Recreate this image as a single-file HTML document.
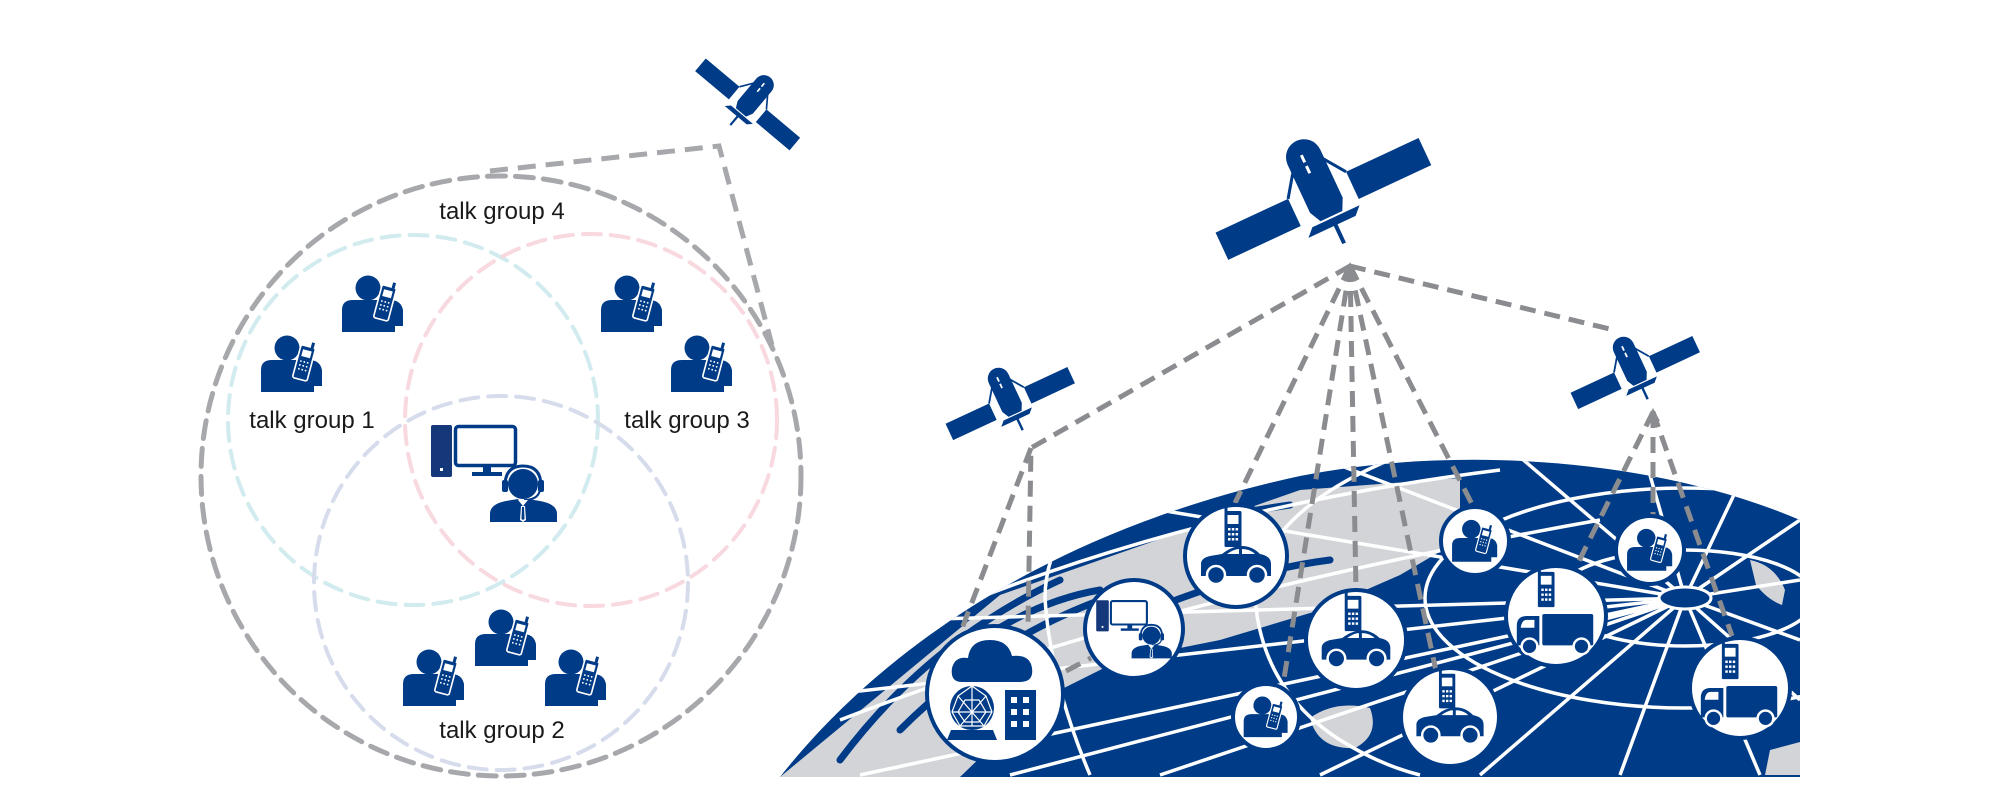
<!DOCTYPE html>
<html><head><meta charset="utf-8"><style>
html,body{margin:0;padding:0;background:#fff;width:2000px;height:800px;overflow:hidden;}
svg{display:block;overflow:hidden;}
text{font-family:"Liberation Sans",sans-serif;font-size:24px;fill:#1a1a1a;}
</style></head><body>
<svg width="2000" height="800" viewBox="0 0 2000 800" xmlns="http://www.w3.org/2000/svg">
<defs>
  <g id="pp">
    <circle cx="33" cy="18" r="12.5" fill="#003b87"/>
    <path d="M7 62 V40 Q7 30 18 30 H55 Q66 30 68 40 V56 H60 V62 Z" fill="#003b87"/>
    <g transform="rotate(15 50 35)">
      <rect x="42" y="16" width="15" height="34" rx="2" fill="#003b87" stroke="#fff" stroke-width="1.6"/>
      <rect x="52" y="11" width="3" height="6" fill="#003b87"/>
      <rect x="45" y="20" width="9" height="7" fill="#fff"/>
      <g fill="#fff"><circle cx="46" cy="32" r="0.9"/><circle cx="49.5" cy="32" r="0.9"/><circle cx="53" cy="32" r="0.9"/>
      <circle cx="46" cy="36" r="0.9"/><circle cx="49.5" cy="36" r="0.9"/><circle cx="53" cy="36" r="0.9"/>
      <circle cx="46" cy="40" r="0.9"/><circle cx="49.5" cy="40" r="0.9"/><circle cx="53" cy="40" r="0.9"/></g>
    </g>
  </g>
  <g id="disp">
    <rect x="11" y="5" width="21" height="52" rx="2" fill="#15387a"/>
    <rect x="20" y="48" width="3" height="3" fill="#fff"/>
    <rect x="35.5" y="6.5" width="60" height="39" rx="3" fill="none" stroke="#003b87" stroke-width="3.5"/>
    <rect x="63" y="46" width="8" height="6" fill="#003b87"/>
    <rect x="52" y="52" width="30" height="4" fill="#003b87"/>
    <path d="M85 66 Q85 46 103 46 Q121 46 121 66" fill="none" stroke="#003b87" stroke-width="3"/>
    <rect x="82" y="60" width="6" height="12" rx="2" fill="#003b87"/>
    <rect x="118" y="60" width="6" height="12" rx="2" fill="#003b87"/>
    <circle cx="103" cy="64" r="15" fill="#003b87"/>
    <path d="M120 70 Q118 80 104 80" fill="none" stroke="#003b87" stroke-width="2"/>
    <path d="M70 102 V94 Q70 84 86 81 L98 79 L103 86 L108 79 L120 81 Q137 84 137 94 V102 Z" fill="#003b87"/>
    <path d="M98 80 L103 86 L108 80 Z" fill="#fff"/>
    <path d="M101 86 H105 L106 100 L103 102 L100 100 Z" fill="#fff"/>
    <path d="M102 87 H104 L104.5 99 L103 100 L101.5 99 Z" fill="#003b87"/>
  </g>
  <g id="phone">
    <rect x="-8.5" y="-18" width="17" height="36" rx="1.5" fill="#003b87"/>
    <rect x="-8.5" y="-24" width="3" height="7" fill="#003b87"/>
    <rect x="-5.5" y="-14" width="11" height="9" fill="#fff"/>
    <g fill="#fff"><rect x="-5" y="-1" width="2.5" height="2.5"/><rect x="-1.2" y="-1" width="2.5" height="2.5"/><rect x="2.6" y="-1" width="2.5" height="2.5"/>
    <rect x="-5" y="4" width="2.5" height="2.5"/><rect x="-1.2" y="4" width="2.5" height="2.5"/><rect x="2.6" y="4" width="2.5" height="2.5"/>
    <rect x="-5" y="9" width="2.5" height="2.5"/><rect x="-1.2" y="9" width="2.5" height="2.5"/><rect x="2.6" y="9" width="2.5" height="2.5"/></g>
  </g>
  <g id="car">
    <use href="#phone" transform="translate(-3,-27)"/>
    <path d="M-35 20 V8 Q-35 2 -26 0 L-14 -2 Q-4 -10 6 -10 Q16 -10 24 -2 Q35 0 35 8 V20 Z" fill="#003b87"/>
    <path d="M-9 -2 Q-2 -7 3 -7 V-2 Z M6 -7 Q14 -7 19 -2 H6 Z" fill="#fff"/>
    <circle cx="-20" cy="19" r="9" fill="#003b87" stroke="#fff" stroke-width="2.5"/>
    <circle cx="21" cy="19" r="9" fill="#003b87" stroke="#fff" stroke-width="2.5"/>
  </g>
  <g id="truck">
    <use href="#phone" transform="translate(-10,-27)"/>
    <rect x="-14" y="-2" width="52" height="32" rx="2" fill="#003b87"/>
    <path d="M-40 30 V10 Q-40 0 -30 0 H-17 V30 Z" fill="#003b87"/>
    <path d="M-36 12 Q-35 4 -30 4 H-22 V12 Z" fill="#fff"/>
    <circle cx="-27" cy="31" r="8" fill="#003b87" stroke="#fff" stroke-width="2.5"/>
    <circle cx="26" cy="31" r="8" fill="#003b87" stroke="#fff" stroke-width="2.5"/>
  </g>
  <g id="sat">
    <line x1="-10" y1="-45" x2="-32" y2="-14" stroke="#003b87" stroke-width="3"/>
    <line x1="10" y1="-45" x2="32" y2="-14" stroke="#003b87" stroke-width="3"/>
    <rect x="-112" y="-14" width="80" height="30" fill="#003b87"/>
    <rect x="32" y="-14" width="80" height="30" fill="#003b87"/>
    <path d="M-18 -45 A18 18 0 0 1 18 -45 V8 L12 20 H-12 L-18 8 Z" fill="#003b87"/>
    <rect x="-3" y="-48" width="3" height="8" fill="#fff"/><rect x="-3" y="-36" width="3" height="8" fill="#fff"/>
    <path d="M-30 30 L-22 22 H30 L22 30 Z" fill="#003b87"/>
    <line x1="0" y1="28" x2="0" y2="50" stroke="#003b87" stroke-width="4"/>
  </g>
  <clipPath id="gc"><path d="M780 777 C880 650 1050 530 1300 476 C1450 446 1650 456 1800 520 L1800 777 Z"/></clipPath>
</defs>

<g fill="none" stroke-width="4" stroke-dasharray="18 10" stroke-linecap="round">
  <circle cx="413" cy="420" r="185" stroke="#d2ebee"/>
  <circle cx="591" cy="420" r="186" stroke="#f7d9df"/>
  <circle cx="501" cy="583" r="187" stroke="#d6dcec"/>
  <circle cx="501" cy="476" r="300" stroke="#a6a8ab" stroke-width="5"/>
</g>
<polyline points="490,171 719,146 772,345" fill="none" stroke="#a6a8ab" stroke-width="5" stroke-dasharray="18 10"/>
<text x="502" y="219" text-anchor="middle">talk group 4</text>
<text x="312" y="428" text-anchor="middle">talk group 1</text>
<text x="687" y="428" text-anchor="middle">talk group 3</text>
<text x="502" y="738" text-anchor="middle">talk group 2</text>
<use href="#pp" transform="translate(335,270)"/>
<use href="#pp" transform="translate(254,330)"/>
<use href="#pp" transform="translate(594,270)"/>
<use href="#pp" transform="translate(664,330)"/>
<use href="#pp" transform="translate(396,644)"/>
<use href="#pp" transform="translate(468,604)"/>
<use href="#pp" transform="translate(538,644)"/>
<use href="#disp" transform="translate(420,420)"/>
<use href="#sat" transform="translate(748,104) rotate(40) scale(0.55)"/>

<g clip-path="url(#gc)">
  <rect x="770" y="440" width="1040" height="337" fill="#003b87"/>
  <path d="M780 777 L1000 595 L1300 490 L1460 478 L1460 540 L1400 575 L1320 610 L1220 640 L1120 660 L1040 700 L960 777 Z" fill="#d2d4d8"/>
  <path d="M1310 718 Q1335 700 1370 708 Q1380 735 1355 748 Q1318 750 1310 718 Z" fill="#d2d4d8"/>
  <path d="M1750 560 Q1775 565 1785 590 L1782 605 Q1768 600 1756 585 Z" fill="#d2d4d8"/>
  <path d="M1770 750 L1800 742 L1800 775 L1765 775 Z" fill="#d2d4d8"/>
  <g fill="none" stroke="#003b87" stroke-width="7" stroke-linecap="round">
    <path d="M840 760 Q930 640 1060 580"/>
    <path d="M900 730 Q1000 630 1130 590"/>
    <path d="M1080 560 Q1180 520 1290 505"/>
    <path d="M1150 610 Q1250 570 1330 560"/>
    <path d="M980 640 Q1040 600 1100 590"/>
  </g>
  <g fill="none" stroke="#fff" stroke-width="3.5">
    <ellipse cx="1685" cy="598" rx="130" ry="48"/>
    <ellipse cx="1685" cy="598" rx="260" ry="110"/>
    <path d="M1255 598 A430 190 0 0 1 2115 598 M1255 598 Q1262 690 1340 740 Q1380 765 1420 775"/>
    <path d="M1045 598 A640 280 0 0 1 2325 598 M1045 598 Q1050 680 1090 775"/>
    <path d="M805 640 A880 360 0 0 1 2565 640"/>
    <path d="M1685 598 L860 775 M1685 598 L1010 775 M1685 598 L1160 775 M1685 598 L1320 775 M1685 598 L1480 775 M1685 598 L1620 775 M1685 598 L1760 775 M1685 598 L1800 700 M1685 598 L1800 640 M1685 598 L1800 580 M1685 598 L1800 520 M1685 598 L1760 440 M1685 598 L1640 440 M1685 598 L1500 440 M1685 598 L1300 450 M1685 598 L1100 500 M1685 598 L900 620 M1685 598 L780 700"/>
    <path d="M800 680 Q1100 520 1500 470 M840 720 Q1150 600 1600 520"/>
  </g>
  <ellipse cx="1685" cy="598" rx="26" ry="11" fill="#003b87" stroke="#fff" stroke-width="3"/>
</g>

<g fill="none" stroke="#8a8c8f" stroke-width="5" stroke-dasharray="16 9">
  <polyline points="1350,266 1031,448 1028,627"/>
  <line x1="1031" y1="448" x2="961" y2="631"/>
  <line x1="1066" y1="671" x2="1091" y2="658"/>
  <line x1="1350" y1="266" x2="1614" y2="330"/>
  <line x1="1350" y1="266" x2="1235" y2="503"/>
  <line x1="1350" y1="266" x2="1283" y2="685"/>
  <line x1="1350" y1="266" x2="1356" y2="590"/>
  <line x1="1350" y1="266" x2="1436" y2="671"/>
  <line x1="1350" y1="266" x2="1474" y2="508"/>
  <line x1="1653" y1="412" x2="1576" y2="567"/>
  <line x1="1653" y1="412" x2="1653" y2="517"/>
  <line x1="1653" y1="412" x2="1732" y2="636"/>
</g>
<path d="M1350 262 L1342 278 L1358 278 Z" fill="#8a8c8f"/>
<path d="M1653 408 L1646 421 L1660 421 Z" fill="#8a8c8f"/>

<use href="#sat" transform="translate(1323,198) rotate(-25)"/>
<use href="#sat" transform="translate(1010,403) rotate(-25) scale(0.6)"/>
<use href="#sat" transform="translate(1635,372) rotate(-25) scale(0.6)"/>

<g fill="#fff" stroke="#003b87" stroke-width="4">
  <circle cx="995" cy="694" r="68"/>
  <circle cx="1134" cy="629" r="49"/>
  <circle cx="1236" cy="556" r="51"/>
  <circle cx="1266" cy="717" r="33"/>
  <circle cx="1356" cy="640" r="50"/>
  <circle cx="1450" cy="717" r="49"/>
  <circle cx="1475" cy="541" r="34"/>
  <circle cx="1556" cy="616" r="50"/>
  <circle cx="1650" cy="550" r="34"/>
  <circle cx="1740" cy="688" r="50"/>
</g>
<g fill="#003b87">
  <path d="M962 682 Q950 682 952 668 Q955 656 968 658 Q970 640 990 640 Q1008 640 1012 656 Q1030 654 1032 668 Q1034 682 1020 682 Z"/>
  <rect x="1005" y="690" width="31" height="50"/>
  <path d="M947 740 L951 730 H993 L997 740 Z"/>
  <circle cx="972" cy="708" r="22"/>
</g>
<g fill="#fff"><rect x="1011" y="697" width="6" height="6"/><rect x="1023" y="697" width="6" height="6"/><rect x="1011" y="709" width="6" height="6"/><rect x="1023" y="709" width="6" height="6"/><rect x="1011" y="721" width="6" height="6"/><rect x="1023" y="721" width="6" height="6"/></g>
<g fill="none" stroke="#fff" stroke-width="1.2"><path d="M972 686 L958 696 L952 712 L960 726 L984 726 L992 712 L986 696 Z M972 686 L972 726 M952 712 L992 712 M958 696 L984 726 M986 696 L960 726 M965 700 L979 700 L986 712 L979 722 L965 722 L958 712 Z"/></g>
<use href="#disp" transform="translate(1134,629) scale(0.6) translate(-74,-53)"/>
<use href="#car" transform="translate(1236,556)"/>
<use href="#car" transform="translate(1356,640) scale(0.98)"/>
<use href="#car" transform="translate(1450,717) scale(0.96)"/>
<use href="#truck" transform="translate(1556,616) scale(0.98)"/>
<use href="#truck" transform="translate(1740,688) scale(0.98)"/>
<use href="#pp" transform="translate(1266,717) scale(0.72) translate(-38,-34)"/>
<use href="#pp" transform="translate(1475,541) scale(0.74) translate(-38,-34)"/>
<use href="#pp" transform="translate(1650,550) scale(0.74) translate(-38,-34)"/>
</svg>
</body></html>
